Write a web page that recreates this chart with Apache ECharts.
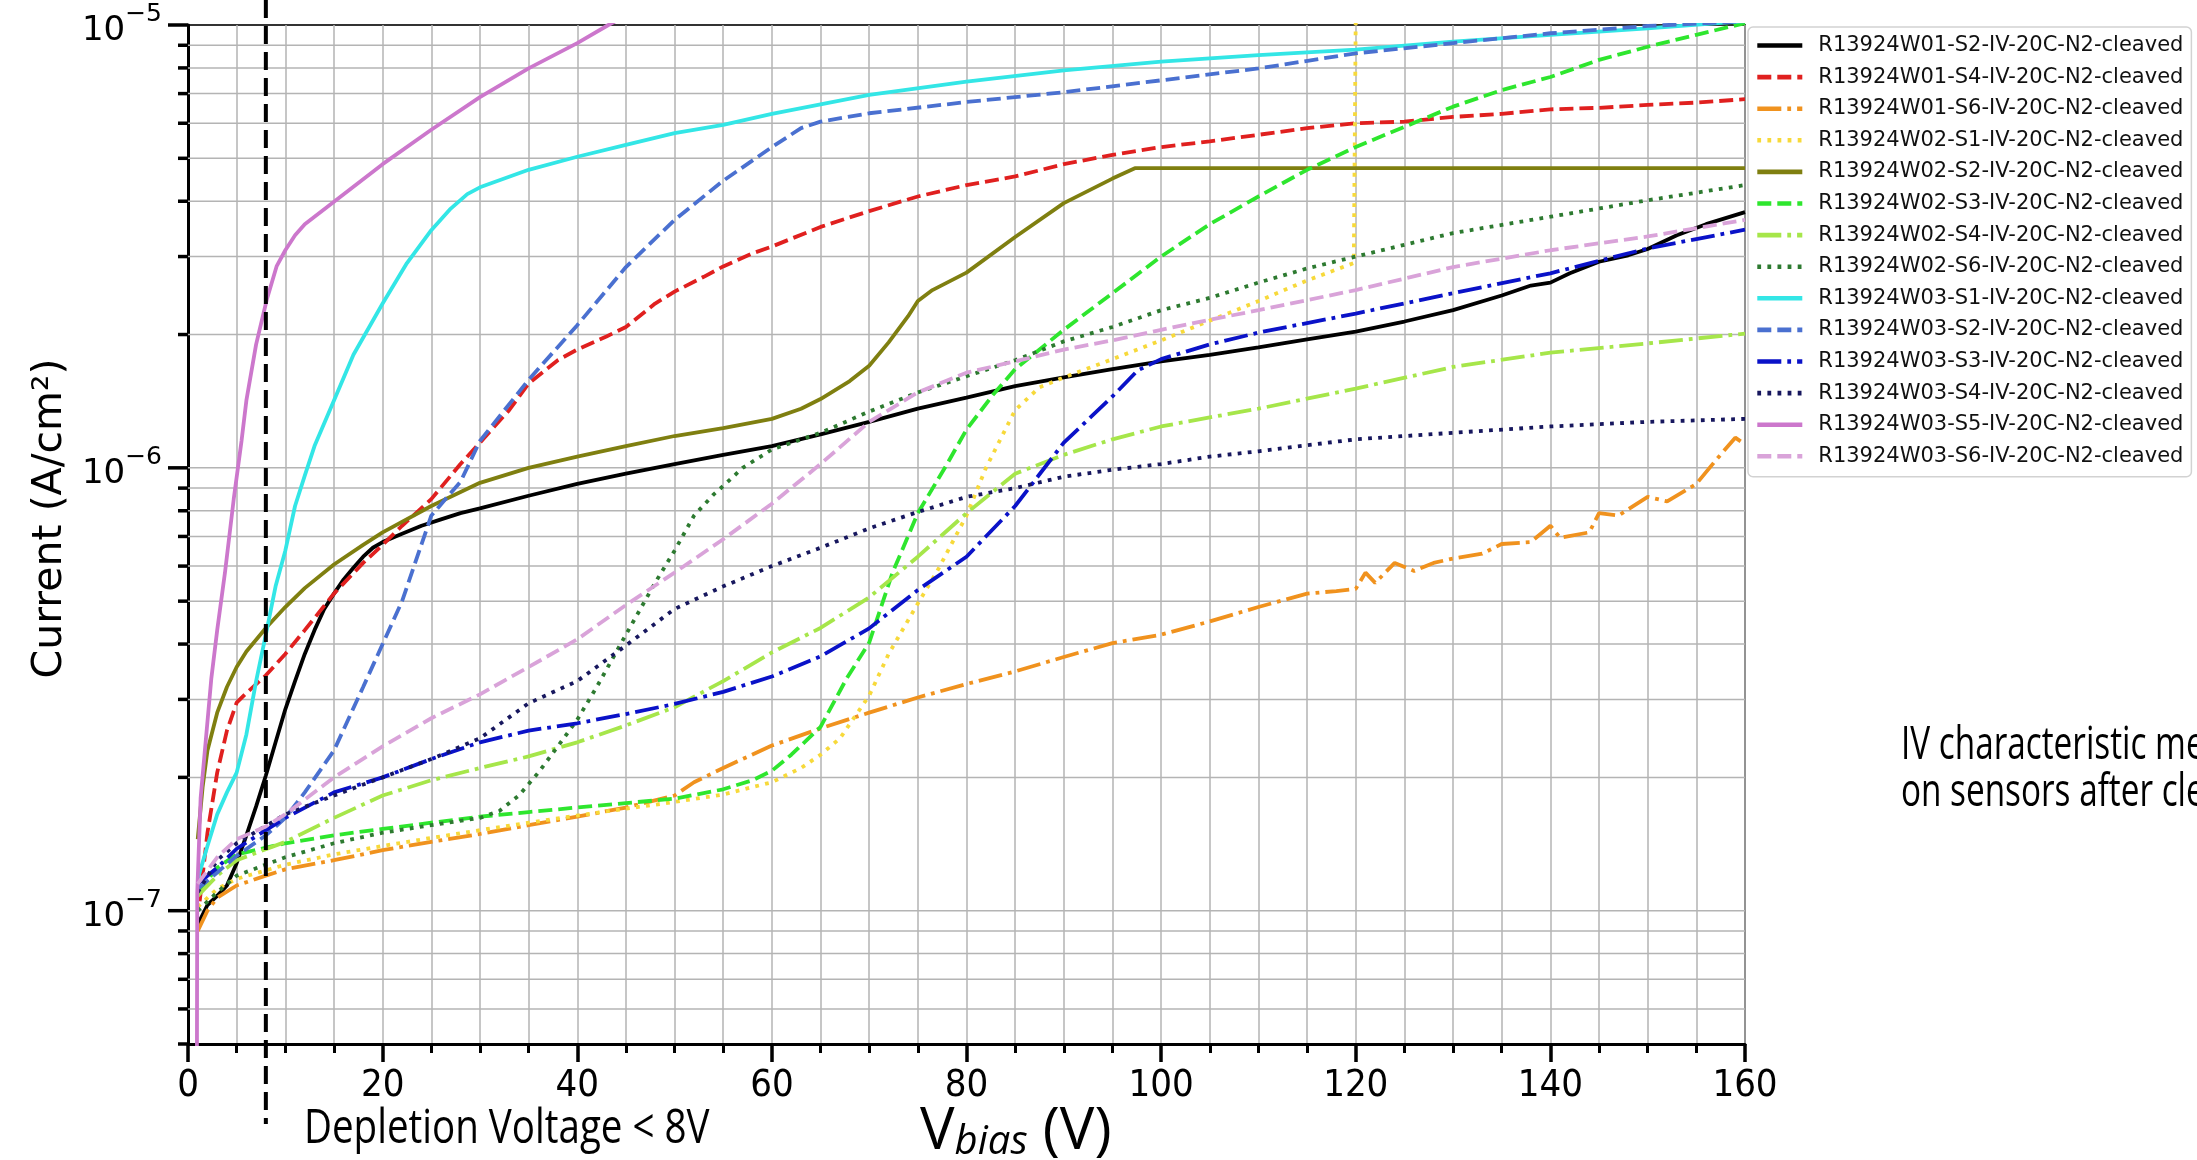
<!DOCTYPE html>
<html>
<head>
<meta charset="utf-8">
<title>IV characteristic after cleaving</title>
<script src="https://cdn.jsdelivr.net/npm/echarts@6/dist/echarts.min.js"></script>
<style>
  html, body { margin: 0; padding: 0; background: #fff; }
  #chart { width: 2197px; height: 1160px; }
</style>
</head>
<body>
<div id="chart"></div>
<script>
// axes
const xMin = 0
const xMax = 160
const yMin = 5e-8
const yMax = 1e-5
const yMajorTicks = [1e-7, 1e-6, 1e-5]
const yMinorTicks = [5e-8, 6e-8, 7e-8, 8e-8, 9e-8,
  2e-7, 3e-7, 4e-7, 5e-7, 6e-7, 7e-7, 8e-7, 9e-7,
  2e-6, 3e-6, 4e-6, 5e-6, 6e-6, 7e-6, 8e-6, 9e-6]
const depletionVoltage = [8]

// measurements: [V bias, current A/cm2]
const w01s2 = [[1, 9.3e-8], [2, 1.03e-7], [3, 1.08e-7], [4, 1.14e-7], [5, 1.28e-7], [6, 1.48e-7], [7, 1.72e-7],
  [8, 2.02e-7], [9, 2.4e-7], [10, 2.85e-7], [11, 3.3e-7], [12, 3.8e-7], [13, 4.3e-7], [14, 4.8e-7], [15, 5.2e-7],
  [16, 5.6e-7], [17, 5.95e-7], [18, 6.3e-7], [19, 6.6e-7], [20, 6.8e-7], [22, 7.1e-7], [24, 7.4e-7], [26, 7.65e-7],
  [28, 7.9e-7], [30, 8.1e-7], [35, 8.65e-7], [40, 9.2e-7], [45, 9.7e-7], [50, 1.02e-6], [55, 1.07e-6], [60, 1.12e-6],
  [65, 1.19e-6], [70, 1.27e-6], [75, 1.36e-6], [80, 1.44e-6], [85, 1.53e-6], [90, 1.6e-6], [95, 1.67e-6],
  [100, 1.74e-6], [105, 1.8e-6], [110, 1.87e-6], [115, 1.95e-6], [120, 2.03e-6], [125, 2.14e-6], [130, 2.27e-6],
  [135, 2.45e-6], [138, 2.58e-6], [140, 2.62e-6], [142, 2.75e-6], [145, 2.92e-6], [148, 3.02e-6], [150, 3.12e-6],
  [153, 3.35e-6], [156, 3.55e-6], [160, 3.78e-6]]
const w01s4 = [[1.2, 1.05e-7], [2, 1.5e-7], [3, 2.05e-7], [4, 2.55e-7], [5, 2.95e-7], [6, 3.1e-7], [8, 3.4e-7],
  [10, 3.8e-7], [12, 4.3e-7], [15, 5.2e-7], [18, 6.1e-7], [20, 6.7e-7], [22, 7.4e-7], [25, 8.5e-7], [28, 1.02e-6],
  [30, 1.14e-6], [33, 1.35e-6], [35, 1.55e-6], [38, 1.75e-6], [40, 1.85e-6], [43, 1.98e-6], [45, 2.08e-6],
  [48, 2.35e-6], [50, 2.5e-6], [53, 2.7e-6], [55, 2.85e-6], [58, 3.05e-6], [60, 3.16e-6], [65, 3.5e-6], [70, 3.8e-6],
  [75, 4.1e-6], [80, 4.35e-6], [85, 4.55e-6], [90, 4.85e-6], [95, 5.09e-6], [100, 5.3e-6], [105, 5.46e-6],
  [110, 5.65e-6], [115, 5.85e-6], [120, 6.0e-6], [125, 6.05e-6], [130, 6.2e-6], [135, 6.3e-6], [140, 6.45e-6],
  [145, 6.5e-6], [150, 6.6e-6], [155, 6.68e-6], [160, 6.8e-6]]
const w01s6 = [[1, 9.0e-8], [2, 1.0e-7], [3, 1.07e-7], [5, 1.14e-7], [8, 1.2e-7], [10, 1.24e-7], [15, 1.3e-7],
  [20, 1.37e-7], [25, 1.43e-7], [30, 1.49e-7], [35, 1.56e-7], [40, 1.63e-7], [45, 1.71e-7], [50, 1.82e-7],
  [52, 1.95e-7], [55, 2.1e-7], [60, 2.36e-7], [65, 2.58e-7], [70, 2.8e-7], [75, 3.03e-7], [80, 3.25e-7],
  [85, 3.47e-7], [90, 3.74e-7], [95, 4.02e-7], [100, 4.2e-7], [105, 4.5e-7], [110, 4.85e-7], [115, 5.2e-7],
  [118, 5.27e-7], [120, 5.33e-7], [121, 5.8e-7], [122, 5.5e-7], [124, 6.1e-7], [126, 5.85e-7], [128, 6.1e-7],
  [130, 6.24e-7], [133, 6.4e-7], [135, 6.73e-7], [138, 6.8e-7], [140, 7.4e-7], [141, 6.95e-7], [144, 7.15e-7],
  [145, 7.9e-7], [147, 7.8e-7], [150, 8.6e-7], [152, 8.4e-7], [155, 9.2e-7], [157, 1.04e-6], [159, 1.17e-6],
  [160, 1.13e-6]]
const w02s1 = [[1, 1.02e-7], [3, 1.12e-7], [5, 1.18e-7], [10, 1.27e-7], [15, 1.34e-7], [20, 1.4e-7], [25, 1.46e-7],
  [30, 1.52e-7], [35, 1.58e-7], [40, 1.64e-7], [45, 1.7e-7], [50, 1.76e-7], [55, 1.83e-7], [60, 1.95e-7],
  [63, 2.1e-7], [65, 2.25e-7], [67, 2.45e-7], [70, 3.06e-7], [72, 3.8e-7], [75, 4.94e-7], [77, 5.85e-7],
  [80, 7.8e-7], [82, 1.0e-6], [85, 1.35e-6], [87.5, 1.52e-6], [90, 1.6e-6], [95, 1.76e-6], [100, 1.94e-6],
  [105, 2.15e-6], [110, 2.38e-6], [115, 2.65e-6], [119.8, 2.9e-6], [120.1, 2e-5]]
const w02s2 = [[1, 1.45e-7], [1.5, 1.9e-7], [2, 2.3e-7], [3, 2.8e-7], [4, 3.2e-7], [5, 3.55e-7], [6, 3.85e-7],
  [8, 4.35e-7], [10, 4.85e-7], [12, 5.35e-7], [15, 6.05e-7], [18, 6.7e-7], [20, 7.15e-7], [25, 8.2e-7],
  [30, 9.25e-7], [35, 1.0e-6], [40, 1.06e-6], [45, 1.12e-6], [50, 1.18e-6], [55, 1.23e-6], [60, 1.29e-6],
  [63, 1.36e-6], [65, 1.43e-6], [68, 1.57e-6], [70, 1.7e-6], [72, 1.92e-6], [74, 2.2e-6], [75, 2.38e-6],
  [76.5, 2.52e-6], [78, 2.62e-6], [80, 2.76e-6], [85, 3.32e-6], [90, 3.96e-6], [95, 4.5e-6], [97.3, 4.75e-6],
  [100, 4.75e-6], [160, 4.75e-6]]
const w02s3 = [[1, 1.1e-7], [3, 1.25e-7], [5, 1.34e-7], [10, 1.42e-7], [15, 1.48e-7], [20, 1.53e-7], [25, 1.58e-7],
  [30, 1.63e-7], [35, 1.67e-7], [40, 1.71e-7], [45, 1.75e-7], [50, 1.79e-7], [55, 1.88e-7], [58, 1.97e-7],
  [60, 2.07e-7], [62, 2.25e-7], [65, 2.6e-7], [67.7, 3.35e-7], [70, 4.03e-7], [72.4, 5.8e-7], [75, 7.9e-7],
  [78, 1.02e-6], [80, 1.22e-6], [82.7, 1.46e-6], [85, 1.67e-6], [90, 2.05e-6], [95, 2.48e-6], [100, 3.0e-6],
  [105, 3.55e-6], [110, 4.1e-6], [115, 4.71e-6], [120, 5.3e-6], [125, 5.89e-6], [130, 6.54e-6], [135, 7.13e-6],
  [140, 7.63e-6], [145, 8.34e-6], [150, 8.93e-6], [155, 9.5e-6], [160, 1.01e-5]]
const w02s4 = [[1, 1.08e-7], [3, 1.2e-7], [5, 1.3e-7], [10, 1.43e-7], [15, 1.62e-7], [20, 1.82e-7], [25, 1.97e-7],
  [30, 2.1e-7], [35, 2.23e-7], [40, 2.4e-7], [45, 2.62e-7], [50, 2.88e-7], [55, 3.3e-7], [60, 3.83e-7],
  [65, 4.35e-7], [70, 5.1e-7], [75, 6.3e-7], [80, 7.9e-7], [85, 9.7e-7], [90, 1.07e-6], [95, 1.16e-6],
  [100, 1.24e-6], [105, 1.3e-6], [110, 1.36e-6], [120, 1.51e-6], [130, 1.69e-6], [140, 1.82e-6], [150, 1.91e-6],
  [160, 2.01e-6]]
const w02s6 = [[1, 1.0e-7], [3, 1.1e-7], [5, 1.2e-7], [10, 1.32e-7], [15, 1.42e-7], [20, 1.5e-7], [25, 1.56e-7],
  [30, 1.62e-7], [32, 1.68e-7], [34, 1.82e-7], [36, 2.05e-7], [38, 2.35e-7], [40, 2.7e-7], [42, 3.2e-7],
  [45, 4.2e-7], [48, 5.5e-7], [50, 6.5e-7], [52, 7.8e-7], [54, 8.7e-7], [55, 9.1e-7], [57, 1.0e-6], [60, 1.1e-6],
  [65, 1.2e-6], [70, 1.34e-6], [75, 1.48e-6], [80, 1.61e-6], [85, 1.75e-6], [90, 1.93e-6], [95, 2.08e-6],
  [100, 2.27e-6], [105, 2.42e-6], [110, 2.62e-6], [115, 2.82e-6], [120, 3.0e-6], [130, 3.39e-6], [140, 3.69e-6],
  [150, 4.02e-6], [160, 4.35e-6]]
const w03s1 = [[1, 1.18e-7], [2, 1.4e-7], [3, 1.65e-7], [4, 1.85e-7], [5, 2.05e-7], [6, 2.5e-7], [7, 3.3e-7],
  [8, 4.2e-7], [9, 5.4e-7], [10, 6.5e-7], [11, 8.2e-7], [12, 9.6e-7], [13, 1.12e-6], [15, 1.42e-6], [17, 1.8e-6],
  [20, 2.35e-6], [22.5, 2.9e-6], [25, 3.44e-6], [27, 3.85e-6], [28.7, 4.15e-6], [30, 4.3e-6], [35, 4.71e-6],
  [40, 5.04e-6], [45, 5.36e-6], [50, 5.7e-6], [55, 5.95e-6], [60, 6.3e-6], [70, 6.95e-6], [80, 7.45e-6],
  [90, 7.9e-6], [100, 8.27e-6], [110, 8.55e-6], [120, 8.8e-6], [130, 9.17e-6], [140, 9.5e-6], [150, 9.83e-6],
  [160, 1.02e-5]]
const w03s2 = [[1, 1.12e-7], [3, 1.22e-7], [5, 1.33e-7], [8, 1.48e-7], [10, 1.62e-7], [12, 1.85e-7], [15, 2.3e-7],
  [18, 3.2e-7], [20, 4.0e-7], [22, 5.0e-7], [25, 7.8e-7], [28, 9.3e-7], [30, 1.15e-6], [35, 1.58e-6], [40, 2.1e-6],
  [45, 2.84e-6], [50, 3.63e-6], [55, 4.45e-6], [60, 5.3e-6], [63, 5.85e-6], [65, 6.05e-6], [70, 6.32e-6],
  [80, 6.7e-6], [90, 7.05e-6], [100, 7.5e-6], [110, 7.98e-6], [120, 8.63e-6], [130, 9.1e-6], [140, 9.58e-6],
  [150, 9.95e-6], [160, 1.02e-5]]
const w03s3 = [[1, 1.15e-7], [3, 1.25e-7], [5, 1.38e-7], [10, 1.62e-7], [15, 1.85e-7], [20, 2.0e-7], [25, 2.2e-7],
  [30, 2.4e-7], [35, 2.55e-7], [40, 2.65e-7], [45, 2.78e-7], [50, 2.93e-7], [55, 3.12e-7], [60, 3.38e-7],
  [65, 3.75e-7], [70, 4.34e-7], [75, 5.3e-7], [80, 6.3e-7], [85, 8.2e-7], [90, 1.14e-6], [95, 1.45e-6],
  [97.6, 1.66e-6], [100, 1.76e-6], [105, 1.9e-6], [110, 2.02e-6], [120, 2.23e-6], [130, 2.48e-6], [140, 2.75e-6],
  [150, 3.13e-6], [160, 3.45e-6]]
const w03s4 = [[1, 1.1e-7], [3, 1.3e-7], [5, 1.42e-7], [10, 1.65e-7], [15, 1.82e-7], [20, 2.0e-7], [25, 2.2e-7],
  [30, 2.45e-7], [35, 2.94e-7], [40, 3.3e-7], [45, 3.97e-7], [50, 4.8e-7], [55, 5.4e-7], [60, 6.0e-7],
  [65, 6.6e-7], [70, 7.3e-7], [75, 7.95e-7], [80, 8.6e-7], [85, 9.0e-7], [90, 9.55e-7], [95, 9.9e-7],
  [100, 1.02e-6], [105, 1.06e-6], [110, 1.09e-6], [120, 1.16e-6], [130, 1.2e-6], [140, 1.24e-6], [150, 1.27e-6],
  [160, 1.29e-6]]
const w03s5 = [[0.9, 3e-8], [0.95, 1.1e-7], [1.3, 1.8e-7], [2.4, 3.35e-7], [3, 4.3e-7], [3.8, 5.8e-7],
  [4.7, 8.5e-7], [5.5, 1.15e-6], [6, 1.42e-6], [7, 1.9e-6], [8.1, 2.4e-6], [9.1, 2.85e-6], [10, 3.1e-6],
  [11, 3.35e-6], [12, 3.55e-6], [15, 3.99e-6], [20, 4.85e-6], [25, 5.8e-6], [30, 6.87e-6], [35, 7.98e-6],
  [40, 9.1e-6], [43.2, 1.0e-5], [46, 1.08e-5]]
const w03s6 = [[1, 1.15e-7], [3, 1.32e-7], [5, 1.45e-7], [8, 1.55e-7], [10, 1.65e-7], [15, 2.0e-7], [20, 2.35e-7],
  [25, 2.72e-7], [30, 3.08e-7], [35, 3.55e-7], [40, 4.1e-7], [45, 4.9e-7], [50, 5.8e-7], [55, 6.9e-7],
  [60, 8.3e-7], [65, 1.02e-6], [70, 1.27e-6], [75, 1.48e-6], [80, 1.64e-6], [85, 1.74e-6], [90, 1.85e-6],
  [95, 1.94e-6], [100, 2.05e-6], [105, 2.16e-6], [110, 2.27e-6], [120, 2.52e-6], [130, 2.84e-6], [140, 3.1e-6],
  [150, 3.33e-6], [160, 3.63e-6]]

const DASHED = [14, 6]
const DOTTED = [3.8, 6.3]
const DASHDOT = [24, 6, 3.8, 6]

const curves = [
  { name: 'R13924W01-S2-IV-20C-N2-cleaved', data: w01s2, color: '#000000', dash: 'solid' },
  { name: 'R13924W01-S4-IV-20C-N2-cleaved', data: w01s4, color: '#e0201f', dash: DASHED },
  { name: 'R13924W01-S6-IV-20C-N2-cleaved', data: w01s6, color: '#f0921e', dash: DASHDOT },
  { name: 'R13924W02-S1-IV-20C-N2-cleaved', data: w02s1, color: '#f7d93a', dash: DOTTED },
  { name: 'R13924W02-S2-IV-20C-N2-cleaved', data: w02s2, color: '#7f7f10', dash: 'solid' },
  { name: 'R13924W02-S3-IV-20C-N2-cleaved', data: w02s3, color: '#2ee62e', dash: DASHED },
  { name: 'R13924W02-S4-IV-20C-N2-cleaved', data: w02s4, color: '#a6e64a', dash: DASHDOT },
  { name: 'R13924W02-S6-IV-20C-N2-cleaved', data: w02s6, color: '#2d7a30', dash: DOTTED },
  { name: 'R13924W03-S1-IV-20C-N2-cleaved', data: w03s1, color: '#33e6e6', dash: 'solid' },
  { name: 'R13924W03-S2-IV-20C-N2-cleaved', data: w03s2, color: '#4a70d0', dash: DASHED },
  { name: 'R13924W03-S3-IV-20C-N2-cleaved', data: w03s3, color: '#0a12c8', dash: DASHDOT },
  { name: 'R13924W03-S4-IV-20C-N2-cleaved', data: w03s4, color: '#17175e', dash: DOTTED },
  { name: 'R13924W03-S5-IV-20C-N2-cleaved', data: w03s5, color: '#cc77cc', dash: 'solid' },
  { name: 'R13924W03-S6-IV-20C-N2-cleaved', data: w03s6, color: '#d9a3d9', dash: DASHED }
]

const chart = echarts.init(document.getElementById('chart'))

const gridColor = '#b4b4b4'
const narrowFont = "'Liberation Sans Narrow', 'DejaVu Sans Condensed', 'Open Sans', sans-serif"

// y grid lines + ticks (log axis minor ticks at 2..9 x 10^n)
function renderYGrid(params, api) {
  const v = api.value(1)
  const major = api.value(2) === 1
  const left = api.coord([xMin, v])
  const right = api.coord([xMax, v])
  const children = []
  if (v > yMin * 1.001 && v < yMax * 0.999) {
    children.push({
      type: 'line',
      shape: { x1: left[0], y1: left[1], x2: right[0], y2: right[1] },
      style: { stroke: gridColor, lineWidth: 1.5 }
    })
  }
  children.push({
    type: 'line',
    shape: { x1: left[0] - (major ? 20 : 10), y1: left[1], x2: left[0], y2: left[1] },
    style: { stroke: '#000', lineWidth: 3.5 }
  })
  return { type: 'group', children }
}

function renderDepletion(params, api) {
  const top = api.coord([api.value(0), yMax])
  const bottom = api.coord([api.value(0), yMin])
  return {
    type: 'line',
    shape: { x1: top[0], y1: top[1] - 25, x2: bottom[0], y2: bottom[1] + 80 },
    style: { stroke: '#000', lineWidth: 4, lineDash: [18, 8] }
  }
}

const yTickData = yMinorTicks.map(v => [xMin, v, 0]).concat(yMajorTicks.map(v => [xMin, v, 1]))

const option = {
  animation: false,
  backgroundColor: '#fff',
  grid: {
    left: 188, top: 25, right: 452, bottom: 116,
    show: true, borderColor: '#333', borderWidth: 2, backgroundColor: 'transparent'
  },
  legend: {
    data: curves.map(c => c.name),
    orient: 'vertical',
    left: 1748,
    top: 27,
    backgroundColor: '#fff',
    borderColor: '#d2d2d2',
    borderWidth: 1.5,
    borderRadius: 5,
    padding: [8, 8, 10, 7],
    itemWidth: 45,
    itemHeight: 14,
    itemGap: 10.6,
    itemStyle: { opacity: 0 },
    lineStyle: { width: 4.6 },
    textStyle: { fontFamily: 'DejaVu Sans', fontSize: 21, color: '#111', lineHeight: 20, padding: [0, 0, 0, 11] }
  },
  xAxis: {
    type: 'value',
    min: xMin,
    max: xMax,
    interval: 20,
    axisLine: { show: true, lineStyle: { color: '#000', width: 3 } },
    axisTick: { show: true, length: 18, lineStyle: { color: '#000', width: 3.5 } },
    minorTick: { show: true, splitNumber: 4, length: 9, lineStyle: { color: '#000', width: 3 } },
    splitLine: { show: true, lineStyle: { color: gridColor, width: 1.5 } },
    minorSplitLine: { show: true, lineStyle: { color: gridColor, width: 1.5 } },
    axisLabel: { margin: 23, fontSize: 38, fontFamily: narrowFont, color: '#000' }
  },
  yAxis: {
    type: 'log',
    logBase: 10,
    min: yMin,
    max: yMax,
    name: 'Current (A/cm²)',
    nameLocation: 'middle',
    nameGap: 105,
    nameRotate: 90,
    nameTextStyle: { fontFamily: 'DejaVu Sans', fontSize: 41, color: '#000', padding: [0, 0, 0, 32] },
    axisLine: { show: true, lineStyle: { color: '#000', width: 3 } },
    axisTick: { show: false },
    splitLine: { show: false },
    axisLabel: {
      margin: 26,
      color: '#000',
      formatter: function (v) {
        const e = Math.log10(v)
        const r = Math.round(e)
        if (Math.abs(e - r) > 1e-6) return ''
        return '{b|10}{s|−' + (-r) + '}'
      },
      rich: {
        b: { fontFamily: 'DejaVu Sans', fontSize: 34, color: '#000', lineHeight: 46, verticalAlign: 'bottom' },
        s: { fontFamily: 'DejaVu Sans', fontSize: 25, color: '#000', lineHeight: 46, verticalAlign: 'top' }
      }
    }
  },
  graphic: [
    {
      type: 'text', x: 304, y: 1130, scaleX: 0.82,
      style: { text: 'Depletion Voltage < 8V', fontFamily: 'Open Sans', fontSize: 47, fill: '#000', verticalAlign: 'middle' }
    },
    {
      type: 'text', x: 920, y: 1132, scaleX: 1.0,
      style: {
        text: '{v|V}{b|bias}{v| (V)}',
        verticalAlign: 'middle',
        rich: {
          v: { fontFamily: 'Open Sans', fontSize: 58, fill: '#000' },
          b: { fontFamily: 'Open Sans', fontSize: 40, fontStyle: 'italic', fill: '#000', padding: [22, 0, 0, 0] }
        }
      }
    },
    {
      type: 'text', x: 1901, y: 770, scaleX: 0.74,
      style: {
        text: 'IV characteristic measurements\non sensors after cleaving',
        fontFamily: 'Open Sans', fontSize: 45, lineHeight: 47, fill: '#000', verticalAlign: 'middle'
      }
    }
  ],
  series: curves.map(c => ({
    name: c.name,
    type: 'line',
    data: c.data,
    showSymbol: false,
    symbol: 'none',
    clip: true,
    z: 3,
    lineStyle: { color: c.color, width: 3.8, type: c.dash, cap: 'butt' },
    itemStyle: { color: c.color }
  })).concat([
    {
      name: 'yGrid',
      type: 'custom',
      data: yTickData,
      encode: { x: 0, y: 1 },
      renderItem: renderYGrid,
      clip: false,
      silent: true,
      z: 1
    },
    {
      name: 'depletion',
      type: 'custom',
      data: depletionVoltage.map(v => [v, yMax]),
      encode: { x: 0, y: 1 },
      renderItem: renderDepletion,
      clip: false,
      silent: true,
      z: 5
    }
  ])
}

chart.setOption(option)
</script>
</body>
</html>
